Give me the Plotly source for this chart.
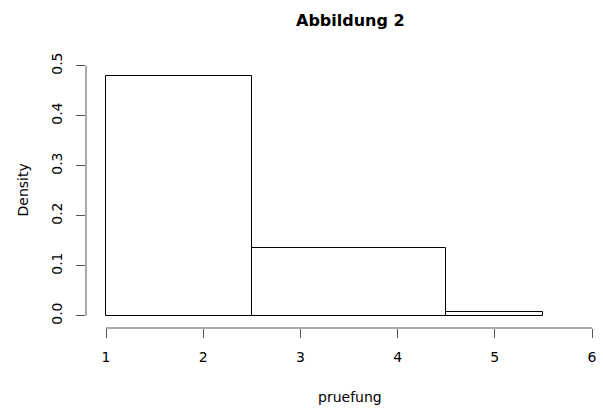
import plotly.graph_objects as go

breaks = [1, 2.5, 4.5, 5.5]
density = [0.48, 0.136, 0.008]
x_ticks = [1, 2, 3, 4, 5, 6]
y_ticks = [0.0, 0.1, 0.2, 0.3, 0.4, 0.5]
y_tick_labels = ["0.0", "0.1", "0.2", "0.3", "0.4", "0.5"]
title = "Abbildung 2"
x_label = "pruefung"
y_label = "Density"

mids = [(a + b) / 2 for a, b in zip(breaks[:-1], breaks[1:])]
widths = [b - a for a, b in zip(breaks[:-1], breaks[1:])]

W, H = 603, 408
ml, mr, mt, mb = 86, 0, 56, 80
px_per_x = 97.2
x0 = 1 - (106 - ml) / px_per_x
x1 = x0 + (W - ml - mr) / px_per_x
px_per_y = 500.0
y_top = 0.5 + (65.7 - mt) / px_per_y
y_bot = y_top - (H - mt - mb) / px_per_y

font = "DejaVu Sans, Liberation Sans, Arial, sans-serif"
axcol = "#555555"

fig = go.Figure()
fig.add_trace(go.Bar(
    x=mids, y=density, width=widths,
    marker=dict(color="white", line=dict(color="black", width=1)),
    showlegend=False, hoverinfo="skip",
))

fig.update_layout(
    width=W, height=H,
    margin=dict(l=ml, r=mr, t=mt, b=mb, pad=0),
    paper_bgcolor="white", plot_bgcolor="white",
    font=dict(family=font, size=14, color="black"),
    bargap=0,
    xaxis=dict(
        range=[x0, x1], tickmode="array", tickvals=x_ticks,
        ticktext=[str(v) for v in x_ticks],
        showgrid=False, zeroline=False, showline=False,
        ticks="outside", ticklen=9, tickcolor=axcol, tickwidth=1,
        ticklabelstandoff=7,
        tickfont=dict(family=font, size=14, color="black"),
    ),
    yaxis=dict(
        range=[y_bot, y_top], tickmode="array", tickvals=y_ticks,
        ticktext=y_tick_labels, tickangle=-90,
        showgrid=False, zeroline=False, showline=False,
        ticks="outside", ticklen=9, tickcolor=axcol, tickwidth=1,
        ticklabelstandoff=8,
        tickfont=dict(family=font, size=14, color="black"),
    ),
    shapes=[
        dict(type="line", xref="x", yref="paper", x0=min(x_ticks), x1=max(x_ticks),
             y0=0, y1=0, line=dict(color=axcol, width=1)),
        dict(type="line", xref="paper", yref="y", x0=0, x1=0,
             y0=min(y_ticks), y1=max(y_ticks), line=dict(color=axcol, width=1)),
    ],
    annotations=[
        dict(text="<b>" + title + "</b>", xref="paper", yref="paper",
             x=(350 - ml) / (W - ml - mr), y=1 + (mt - 20) / (H - mt - mb),
             xanchor="center", yanchor="middle", showarrow=False,
             font=dict(family=font, size=16, color="black")),
        dict(text=x_label, xref="paper", yref="paper",
             x=(350 - ml) / (W - ml - mr), y=-(396.5 - (H - mb)) / (H - mt - mb),
             xanchor="center", yanchor="middle", showarrow=False,
             font=dict(family=font, size=14, color="black")),
        dict(text=y_label, xref="paper", yref="paper", textangle=-90,
             x=-(ml - 22) / (W - ml - mr), y=((H - mb) - 190.5) / (H - mt - mb),
             xanchor="center", yanchor="middle", showarrow=False,
             font=dict(family=font, size=14, color="black")),
    ],
)

fig.write_html("out.html", config={"displayModeBar": False})

with open("out.html", "r", encoding="utf-8") as f:
    html = f.read()
html = html.replace("<head>", "<head><style>html,body{margin:0;padding:0;overflow:hidden;}</style>", 1)
with open("out.html", "w", encoding="utf-8") as f:
    f.write(html)
